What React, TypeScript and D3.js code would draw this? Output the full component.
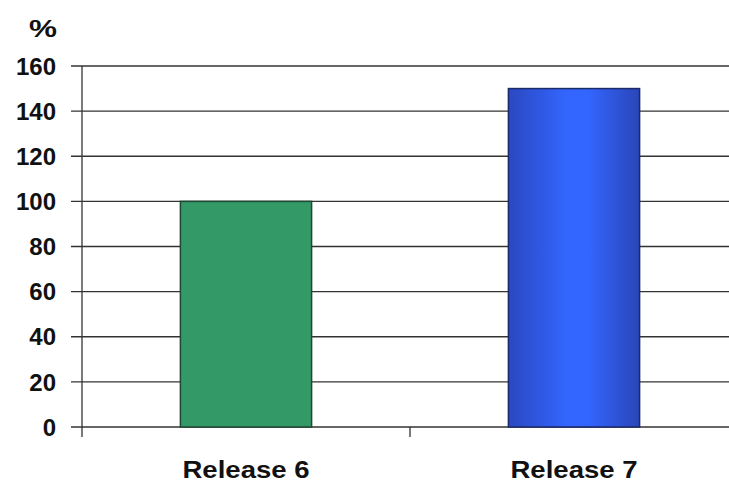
import React from "react";
import * as d3 from "d3";

const categories = ["Release 6", "Release 7"];
const values = [100, 150];
const yTicks = [0, 20, 40, 60, 80, 100, 120, 140, 160];

const W = 729;
const H = 482;
const left = 82;
const y0 = 427;
const yTop = 66;

export default function App() {
  const x = d3
    .scaleBand<string>()
    .domain(categories)
    .range([left, left + 656])
    .paddingInner(0.6)
    .paddingOuter(0.3);
  const y = d3.scaleLinear().domain([0, 160]).range([y0, yTop]);
  const step = x.step();
  const font = "'Liberation Sans', Arial, sans-serif";
  return (
    <svg
      width={W}
      height={H}
      style={{ position: "absolute", left: 0, top: 0, background: "#fff" }}
    >
      <defs>
        <linearGradient id="blueGrad" x1="0" x2="1" y1="0" y2="0">
          <stop offset="0%" stopColor="#2a48c0" />
          <stop offset="45%" stopColor="#3366ff" />
          <stop offset="60%" stopColor="#3366ff" />
          <stop offset="100%" stopColor="#2a45b8" />
        </linearGradient>
      </defs>
      {yTicks.map((t) => (
        <g key={t}>
          <line
            x1={71}
            x2={W}
            y1={y(t)}
            y2={y(t)}
            stroke="#333"
            strokeWidth={1.3}
          />
          <text
            x={56}
            y={y(t)}
            dy="0.36em"
            textAnchor="end"
            fontFamily={font}
            fontWeight="bold"
            fontSize={24}
            fill="#111"
          >
            {t}
          </text>
        </g>
      ))}
      <text
        x={57}
        y={37}
        textAnchor="end"
        fontFamily={font}
        fontWeight="bold"
        fontSize={24}
        fill="#111"
        textLength={28}
        lengthAdjust="spacingAndGlyphs"
      >
        %
      </text>
      <line x1={left} x2={left} y1={yTop} y2={y0 + 10} stroke="#333" strokeWidth={1.3} />
      {[1, 2].map((i) => (
        <line
          key={i}
          x1={left + step * i}
          x2={left + step * i}
          y1={y0}
          y2={y0 + 10}
          stroke="#333"
          strokeWidth={1.3}
        />
      ))}
      {categories.map((c, i) => (
        <g key={c}>
          <rect
            x={x(c)}
            y={y(values[i])}
            width={x.bandwidth()}
            height={y0 - y(values[i])}
            fill={i === 0 ? "#339966" : "url(#blueGrad)"}
            stroke={i === 0 ? "#1e4a33" : "#1a2a6a"}
            strokeWidth={1.5}
          />
          <text
            x={(x(c) as number) + x.bandwidth() / 2}
            y={478}
            textAnchor="middle"
            fontFamily={font}
            fontWeight="bold"
            fontSize={24}
            fill="#111"
            textLength={127}
            lengthAdjust="spacingAndGlyphs"
          >
            {c}
          </text>
        </g>
      ))}
    </svg>
  );
}
